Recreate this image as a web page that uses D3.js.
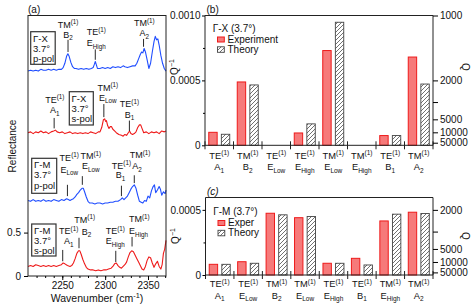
<!DOCTYPE html>
<html>
<head>
<meta charset="utf-8">
<script src="https://cdnjs.cloudflare.com/ajax/libs/d3/7.8.5/d3.min.js"></script>
<style>
body{margin:0;background:#fff;}
svg text{font-family:"Liberation Sans",Arial,sans-serif;font-size:10px;fill:#111;}
</style>
</head>
<body>
<script>
// spectra, [wavenumber, reflectance] (offset traces as plotted)
var gxP = [[2210,2.36],[2213,2.37],[2216,2.36],[2219,2.37],[2222,2.36],[2225,2.38],[2228,2.37],[2231,2.37],[2234,2.38],[2237,2.37],[2240,2.38],[2243,2.37],[2246,2.38],[2249,2.38],[2251,2.40],[2253,2.45],[2255,2.53],[2256.5,2.56],[2258,2.53],[2260,2.46],[2262,2.41],[2264,2.39],[2266,2.39],[2269,2.38],[2272,2.39],[2275,2.38],[2278,2.39],[2281,2.38],[2284,2.39],[2286,2.40],[2287.5,2.44],[2288.5,2.47],[2289.5,2.44],[2291,2.39],[2294,2.39],[2297,2.40],[2300,2.39],[2303,2.40],[2306,2.39],[2309,2.41],[2312,2.40],[2315,2.41],[2318,2.40],[2321,2.42],[2323,2.41],[2326,2.40],[2329,2.41],[2332,2.42],[2335,2.42],[2337,2.45],[2339,2.50],[2341,2.55],[2342.5,2.58],[2344,2.57],[2345.5,2.62],[2347,2.58],[2349,2.49],[2351,2.39],[2353,2.45],[2355,2.58],[2357,2.70],[2358.5,2.76],[2360,2.72],[2361.5,2.73],[2363,2.66],[2365,2.54],[2367,2.45],[2369,2.39],[2371,2.36]];
var gxS = [[2210,1.65],[2213,1.66],[2216,1.64],[2219,1.66],[2222,1.65],[2225,1.67],[2228,1.65],[2231,1.66],[2234,1.64],[2237,1.66],[2240,1.67],[2242,1.68],[2244,1.66],[2247,1.65],[2250,1.66],[2253,1.64],[2256,1.65],[2259,1.66],[2262,1.64],[2265,1.65],[2268,1.64],[2271,1.65],[2274,1.64],[2277,1.65],[2280,1.64],[2283,1.66],[2286,1.65],[2289,1.64],[2292,1.66],[2294,1.66],[2296,1.71],[2298,1.80],[2299.5,1.81],[2300.5,1.78],[2301.5,1.79],[2303,1.73],[2304.5,1.70],[2306,1.72],[2307.5,1.72],[2309,1.69],[2311,1.67],[2313,1.65],[2316,1.63],[2319,1.62],[2321,1.61],[2323,1.63],[2325,1.62],[2327,1.65],[2328.5,1.67],[2330,1.64],[2332,1.63],[2334,1.64],[2336,1.66],[2338,1.71],[2340,1.74],[2341.5,1.74],[2343,1.70],[2345,1.65],[2348,1.66],[2351,1.64],[2354,1.66],[2357,1.65],[2360,1.66],[2363,1.64],[2366,1.67],[2369,1.66],[2371,1.67]];
var gmP = [[2210,0.87],[2213,0.86],[2216,0.88],[2219,0.86],[2222,0.87],[2225,0.86],[2228,0.88],[2231,0.86],[2234,0.87],[2237,0.86],[2240,0.88],[2243,0.87],[2246,0.86],[2249,0.88],[2252,0.87],[2255,0.89],[2257,0.88],[2259,0.87],[2261,0.88],[2263,0.89],[2265,0.91],[2267,0.94],[2269,0.96],[2271,0.99],[2273,1.01],[2274.5,1.01],[2276,0.97],[2278,0.91],[2280,0.86],[2282,0.84],[2285,0.84],[2288,0.83],[2291,0.84],[2294,0.84],[2297,0.83],[2300,0.84],[2303,0.84],[2306,0.85],[2309,0.85],[2312,0.86],[2315,0.86],[2318,0.88],[2320,0.90],[2322,0.88],[2324,0.90],[2326,0.92],[2328,0.96],[2330,1.00],[2332,1.03],[2334,1.05],[2336,1.01],[2338,0.93],[2340,0.86],[2342,0.85],[2344,0.84],[2346,0.87],[2348,0.86],[2350,0.92],[2352,0.90],[2354,0.98],[2356,1.03],[2357.5,1.05],[2359,0.96],[2361,0.99],[2363,1.03],[2364.5,1.00],[2366,0.93],[2368,0.97],[2370,0.95],[2371,0.99]];
var gmS = [[2210,0.11],[2213,0.12],[2216,0.11],[2219,0.13],[2222,0.12],[2225,0.11],[2228,0.12],[2231,0.11],[2234,0.12],[2237,0.11],[2240,0.12],[2243,0.11],[2246,0.12],[2249,0.13],[2251,0.15],[2253,0.14],[2256,0.12],[2259,0.11],[2261,0.12],[2263,0.15],[2265,0.20],[2267,0.26],[2269,0.29],[2270.5,0.29],[2272,0.25],[2274,0.19],[2276,0.14],[2278,0.10],[2280,0.08],[2283,0.07],[2286,0.07],[2289,0.06],[2292,0.07],[2295,0.06],[2298,0.07],[2301,0.07],[2304,0.08],[2307,0.09],[2309,0.11],[2311,0.14],[2313,0.15],[2315,0.12],[2317,0.10],[2319,0.09],[2321,0.11],[2323,0.13],[2325,0.16],[2327,0.22],[2329,0.27],[2331,0.29],[2333,0.28],[2335,0.24],[2337,0.20],[2339,0.16],[2341,0.12],[2343,0.08],[2345,0.07],[2347,0.11],[2349,0.18],[2351,0.22],[2353,0.21],[2355,0.15],[2357,0.10],[2359,0.14],[2361,0.17],[2363,0.11],[2365,0.08],[2366.5,0.13],[2368,0.26],[2369.5,0.31],[2371,0.41]];

// peak markers: [trace, line1, line2, wavenumber, top, bottom]
var marks = [
  ['gxP','TM^{(1)}','B_{2}',2256.7,2.72,2.58],
  ['gxP','TE^{(1)}','E_{High}',2288.5,2.61,2.49],
  ['gxP','TM^{(1)}','A_{2}',2344.8,2.73,2.64],
  ['gxS','TE^{(1)}','A_{1}',2240.5,1.82,1.70],
  ['gxS','TM^{(1)}','E_{Low}',2298.5,1.98,1.83],
  ['gxS','TE^{(1)}','B_{1}',2328.3,1.79,1.67],
  ['gmP','TE^{(1)}','E_{Low}',2256,1.05,0.92],
  ['gmP','TM^{(1)}','E_{Low}',2273.4,1.15,1.05],
  ['gmP','TE^{(1)}','B_{1}',2319,1.04,0.92],
  ['gmP','TM^{(1)}','A_{2}',2334,1.16,1.07],
  ['gmS','TE^{(1)}','A_{1}',2250.5,0.30,0.17],
  ['gmS','TM^{(1)}','B_{2}',2269.5,0.44,0.32],
  ['gmS','TE^{(1)}','E_{High}',2312.4,0.29,0.16],
  ['gmS','TM^{(1)}','E_{High}',2331.4,0.45,0.34]
];
// label offsets [dx1, dx2, baseline1, baseline2] relative to marker top
var markLayout = [[0,0,-12,-2],[1,1,-14,-3],[0.7,0.7,-13,-2.5],[0.7,0.7,-15.3,-4.6],[4,4,-13.5,-3.5],[0,0,-13.4,-3],
  [1.8,1.8,-24.3,-12.3],[8.5,8.5,-17,-6.7],[0,-1,-17,-7.7],[5.8,2.8,-17.2,-6],
  [6,6,-15.7,-5.7],[5.7,7.4,-15.2,-3.2],[-0.5,-0.5,-16.7,-6.7],[7.3,6.5,-14.7,-2.7]];

var condX = [['Γ-X','3.7°','p-pol'],['Γ-X','3.7°','s-pol'],['Γ-M','3.7°','p-pol'],['Γ-M','3.7°','s-pol']];

// Q^-1 bars
var catsX = ['TE^{(1)}|A_{1}','TM^{(1)}|B_{2}','TE^{(1)}|E_{Low}','TE^{(1)}|E_{High}','TM^{(1)}|E_{Low}','TM^{(1)}|E_{High}','TE^{(1)}|B_{1}','TM^{(1)}|A_{2}'];
var expX = [0.000100,0.000488,null,0.000095,0.000730,null,0.000075,0.000680];
var thX  = [0.000085,0.000465,null,0.000165,0.000948,null,0.000075,0.000472];
var catsM = ['TE^{(1)}|A_{1}','TE^{(1)}|E_{Low}','TM^{(1)}|B_{2}','TM^{(1)}|E_{Low}','TE^{(1)}|E_{High}','TE^{(1)}|B_{1}','TM^{(1)}|E_{High}','TM^{(1)}|A_{2}'];
var expM = [0.000082,0.000102,0.000474,0.000440,0.000090,0.000128,0.000415,0.000482];
var thM  = [0.000082,0.000090,0.000462,0.000449,0.000090,0.000077,0.000467,0.000472];
var qTicksX = [1000,2000,3000,5000,10000,50000];
var qTicksM = [2000,3000,5000,10000,50000];
var qShown = [1000,2000,5000,10000,50000];

var width = 474, height = 308;
var blue = '#1f4dff', red = '#ee1a1a';
var svg = d3.select('body').append('svg').attr('width',width).attr('height',height);

var defs = svg.append('defs');
var pat = defs.append('pattern').attr('id','hatch').attr('patternUnits','userSpaceOnUse')
  .attr('width',4).attr('height',4);
pat.append('rect').attr('width',4).attr('height',4).attr('fill','#fff');
pat.append('path').attr('d','M-1,1 l2,-2 M0,4 l4,-4 M3,5 l2,-2').attr('stroke','#333').attr('stroke-width',0.7);

// text with ^{sup} and _{sub}
function rich(t, str, fs){
  var parts = str.split(/(\^\{[^}]*\}|_\{[^}]*\})/).filter(function(s){return s.length;});
  var cur = 0;
  parts.forEach(function(p){
    var target = 0, small = false, txt = p;
    if(p[0]=='^'){target = -fs*0.38; small = true; txt = p.slice(2,-1);}
    else if(p[0]=='_'){target = fs*0.28; small = true; txt = p.slice(2,-1);}
    var ts = t.append('tspan').attr('dy', target-cur).text(txt);
    if(small) ts.style('font-size',(fs*0.7)+'px');
    cur = target;
  });
  return t;
}

// ---------- panel (a)
var A = {l:28, r:166, t:15.5, b:276};
var xA = d3.scaleLinear().domain([2210,2371]).range([A.l,A.r]);
var yA = d3.scaleLinear().domain([0,3]).range([A.b,A.t]);
var traces = {gxP:gxP, gxS:gxS, gmP:gmP, gmS:gmS};
var tColor = {gxP:blue, gxS:red, gmP:blue, gmS:red};
var line = d3.line().x(function(d){return xA(d[0]);}).y(function(d){return yA(d[1]);});

var pa = svg.append('g');
['gxP','gxS','gmP','gmS'].forEach(function(k){
  pa.append('path').datum(traces[k]).attr('d',line).attr('fill','none')
    .attr('stroke',tColor[k]).attr('stroke-width',1.1).attr('stroke-linejoin','round');
});
pa.append('rect').attr('x',A.l).attr('y',A.t).attr('width',A.r-A.l).attr('height',A.b-A.t)
  .attr('fill','none').attr('stroke','#222').attr('stroke-width',1);

pa.append('g').attr('transform','translate(0,'+A.b+')')
  .call(d3.axisBottom(xA).tickValues(d3.range(2220,2371,10)).tickSize(2).tickFormat(''))
  .call(function(g){g.select('.domain').remove();});
pa.append('g').attr('transform','translate(0,'+A.b+')')
  .call(d3.axisBottom(xA).tickValues([2250,2300,2350]).tickSize(4).tickPadding(2).tickFormat(d3.format('d')))
  .call(function(g){g.select('.domain').remove(); g.selectAll('text').style('font-size','10px').attr('fill','#111');});
pa.append('g').attr('transform','translate('+A.l+',0)')
  .call(d3.axisLeft(yA).tickValues([0,0.5]).tickSize(4).tickPadding(3).tickFormat(function(d){return d==0?'0':'0.5';}))
  .call(function(g){g.select('.domain').remove(); g.selectAll('text').style('font-size','10px').attr('fill','#111');});

pa.append('text').attr('transform','translate(16,146) rotate(-90)').attr('text-anchor','middle').text('Reflectance');
rich(pa.append('text').attr('x',97).attr('y',302).attr('text-anchor','middle').style('font-size','10.5px'),'Wavenumber (cm^{-1})',10.5);
pa.append('text').attr('x',28).attr('y',13).text('(a)');

// markers
marks.forEach(function(m,i){
  var lay = markLayout[i];
  var x = xA(m[3]), top = yA(m[4]);
  pa.append('line').attr('x1',x).attr('x2',x).attr('y1',top).attr('y2',yA(m[5]))
    .attr('stroke','#111').attr('stroke-width',0.9);
  rich(pa.append('text').attr('x',x+lay[0]).attr('y',top+lay[2]).attr('text-anchor','middle').style('font-size','9px'),m[1],9);
  rich(pa.append('text').attr('x',x+lay[1]).attr('y',top+lay[3]).attr('text-anchor','middle').style('font-size','9px'),m[2],9);
});

// condition boxes
var boxes = [{x:30.7,y:31.7,w:24.5,h:32.6},{x:69.3,y:91.7,w:24,h:33.3},{x:31.7,y:158.3,w:25,h:35},{x:31.7,y:224,w:24.3,h:32}];
boxes.forEach(function(b,i){
  pa.append('rect').attr('x',b.x).attr('y',b.y).attr('width',b.w).attr('height',b.h)
    .attr('fill','#fff').attr('stroke','#333').attr('stroke-width',1.2);
  condX[i].forEach(function(s,j){
    pa.append('text').attr('x',b.x+2.3).attr('y',b.y+9.8+j*10.2).style('font-size','9.5px').text(s);
  });
});

// ---------- panels (b), (c)
function barPanel(P, cats, ex, th, yMax, qTicks, title, legExp, tag){
  var x = d3.scaleBand().domain(cats).range([P.l,P.r]);
  var y = d3.scaleLinear().domain([0,yMax]).range([P.b,P.t]);
  var g = svg.append('g');
  var bw = 8.4, off = 6.3;
  cats.forEach(function(c,i){
    var cx = x(c)+x.bandwidth()/2;
    if(ex[i]!=null) g.append('rect').attr('x',cx-off-bw/2).attr('y',y(ex[i])).attr('width',bw).attr('height',P.b-y(ex[i]))
      .attr('fill','#f67a7a').attr('stroke',red).attr('stroke-width',1);
    if(th[i]!=null) g.append('rect').attr('x',cx+off-bw/2).attr('y',y(th[i])).attr('width',bw).attr('height',P.b-y(th[i]))
      .attr('fill','url(#hatch)').attr('stroke','#444').attr('stroke-width',0.9);
    var ls = c.split('|');
    rich(g.append('text').attr('x',cx).attr('y',P.lab1).attr('text-anchor','middle').style('font-size','9.3px'),ls[0],9.3);
    rich(g.append('text').attr('x',cx).attr('y',P.lab1+11.3).attr('text-anchor','middle').style('font-size','9.3px'),ls[1],9.3);
  });
  // frame
  g.append('path').attr('d','M'+P.l+','+P.b+'V'+P.t+'H'+P.r+'V'+P.b+'H'+P.l)
    .attr('fill','none').attr('stroke','#222').attr('stroke-width',1);
  var bounds = cats.map(function(c){return x(c);}).concat([P.r]);
  bounds.forEach(function(b){
    g.append('line').attr('x1',b).attr('x2',b).attr('y1',P.b-4).attr('y2',P.b+4).attr('stroke','#222');
  });
  var yt = yMax>0.0009 ? [0,0.0005,0.001] : [0,0.0005];
  g.append('g').attr('transform','translate('+P.l+',0)')
    .call(d3.axisLeft(y).tickValues(d3.range(0.00025,yMax+1e-9,0.0005)).tickSize(2).tickFormat(''))
    .call(function(s){s.select('.domain').remove();});
  g.append('g').attr('transform','translate('+P.l+',0)')
    .call(d3.axisLeft(y).tickValues(yt).tickSize(3).tickPadding(1.5).tickFormat(function(d){return d==0?'0':d3.format('.4f')(d);}))
    .call(function(s){s.select('.domain').remove(); s.selectAll('text').style('font-size','10px').attr('fill','#111');});
  g.append('g').attr('transform','translate('+P.r+',0)')
    .call(d3.axisRight(y).tickValues(qTicks.map(function(q){return 1/q;})).tickSize(5).tickPadding(2)
      .tickFormat(function(d){var q=Math.round(1/d); return qShown.indexOf(q)>=0?q:'';}))
    .call(function(s){s.select('.domain').remove(); s.selectAll('text').style('font-size','10px').attr('fill','#111');});
  rich(g.append('text').attr('transform','translate('+(P.l-27)+','+P.qy+') rotate(-90)').attr('text-anchor','middle'),'Q^{−1}',10);
  g.append('text').attr('transform','translate('+(P.r+29)+','+P.qy+') rotate(90)').attr('text-anchor','middle').text('Q');
  g.append('text').attr('x',P.l+1.5).attr('y',P.t-2.5).style('font-style',P.italic?'italic':'normal').text(tag);
  // legend
  var lx = P.l+7.7, ly = P.t+P.leg;
  g.append('text').attr('x',lx).attr('y',ly).text(title);
  g.append('rect').attr('x',lx+4.8).attr('y',ly+5.5).attr('width',6.8).attr('height',5)
    .attr('fill','#f67a7a').attr('stroke',red).attr('stroke-width',1);
  g.append('rect').attr('x',lx+4.8).attr('y',ly+15.3).attr('width',6.8).attr('height',5.5)
    .attr('fill','url(#hatch)').attr('stroke','#444').attr('stroke-width',0.9);
  g.append('text').attr('x',lx+14.8).attr('y',ly+11.3).text(legExp);
  g.append('text').attr('x',lx+14.8).attr('y',ly+21.3).text('Theory');
}

barPanel({l:205,r:433,t:15.5,b:145.3,lab1:158.8,qy:67,leg:16,italic:false}, catsX, expX, thX, 0.001, qTicksX, 'Γ-X (3.7°)', 'Experiment', '(b)');
barPanel({l:205.5,r:433,t:197.5,b:275,lab1:287.3,qy:236,leg:17.5,italic:true}, catsM, expM, thM, 0.000595, qTicksM, 'Γ-M (3.7°)', 'Exper', '(c)');
</script>
</body>
</html>
